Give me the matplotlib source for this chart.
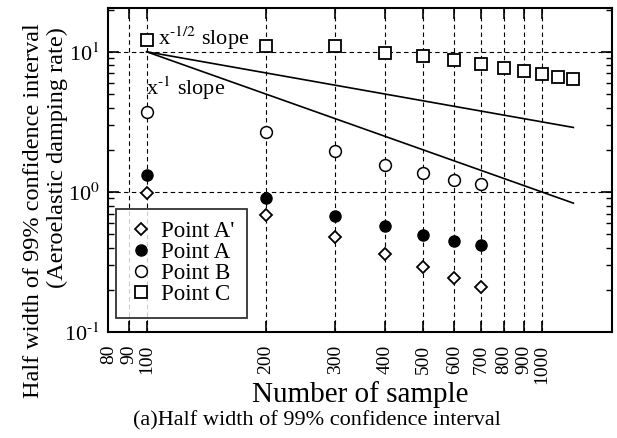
import numpy as np
import matplotlib
matplotlib.use('Agg')
import matplotlib.pyplot as plt
from matplotlib.ticker import FixedLocator, NullFormatter, LogLocator

plt.rcParams['font.family'] = ['Liberation Serif', 'DejaVu Serif']
plt.rcParams['mathtext.fontset'] = 'stix'

# sample counts and half widths for each point
n_short = [100, 200, 300, 400, 500, 600, 700]
n_long = [100, 200, 300, 400, 500, 600, 700, 800, 900, 1000, 1100, 1200]
point_a_dash = [0.98, 0.69, 0.48, 0.362, 0.29, 0.245, 0.211]
point_a = [1.33, 0.906, 0.68, 0.569, 0.491, 0.448, 0.42]
point_b = [3.75, 2.67, 1.95, 1.56, 1.37, 1.22, 1.14]
point_c = [12.1, 11.0, 11.0, 9.86, 9.33, 8.79, 8.19, 7.71, 7.30, 6.92, 6.65, 6.40]

# reference slopes starting from (100, 10)
slope_x = [100, 1200]
x_ticks = [80, 90, 100, 200, 300, 400, 500, 600, 700, 800, 900, 1000]

fig = plt.figure(figsize=(6.17, 4.38), dpi=100)
ax = fig.add_axes([0.1755, 0.2413, 0.8159, 0.7397])
ax.set_xscale('log')
ax.set_yscale('log')
ax.set_xlim(80, 1500)
ax.set_ylim(0.1, 20.4)

for xv in x_ticks[1:]:
    ax.axvline(xv, color='k', ls=(0, (4, 3)), lw=0.8, zorder=0)
for yv in [1, 10]:
    ax.axhline(yv, color='k', ls=(0, (4, 3)), lw=0.8, zorder=0)

sx = np.array(slope_x, dtype=float)
ax.plot(sx, 10 * (sx / 100) ** -0.5, color='k', lw=1.2)
ax.plot(sx, 10 * (sx / 100) ** -1.0, color='k', lw=1.2)

ax.plot(n_short, point_a_dash, 'D', ms=6.5, mfc='white', mec='k', mew=1.3, label="Point A'", ls='none')
ax.plot(n_short, point_a, 'o', ms=8, mfc='k', mec='k', label='Point A', ls='none')
ax.plot(n_short, point_b, 'o', ms=8.5, mfc='white', mec='k', mew=1.1, label='Point B', ls='none')
ax.plot(n_long, point_c, 's', ms=8.5, mfc='white', mec='k', mew=1.3, label='Point C', ls='none')

ax.text(107, 11.2, r'x$^{\text{-1/2}}$ slope', fontsize=16, va='baseline', ha='left')
ax.text(99.5, 4.93, r'x$^{\text{-1}}$ slope', fontsize=16, va='baseline', ha='left')

ax.xaxis.set_major_locator(FixedLocator(x_ticks))
ax.xaxis.set_minor_locator(FixedLocator([]))
ax.set_xticklabels([str(v) for v in x_ticks], rotation=90, fontsize=14)
ax.yaxis.set_major_locator(LogLocator(base=10, numticks=10))
ax.yaxis.set_minor_locator(LogLocator(base=10, subs=np.arange(2, 10), numticks=10))
ax.yaxis.set_minor_formatter(NullFormatter())
ax.set_yticks([0.1, 1, 10])
ax.set_yticklabels([r'10$^{\text{-1}}$', r'10$^{0}$', r'10$^{1}$'], fontsize=16)
ax.tick_params(which='major', direction='in', length=8, width=1.2, top=True, right=True, pad=6)
ax.tick_params(axis='x', pad=9)
ax.tick_params(which='minor', direction='in', length=4, width=1, top=True, right=True)
for sp in ax.spines.values():
    sp.set_linewidth(1.5)

leg = ax.legend(loc='lower left', bbox_to_anchor=(0.015, 0.044), borderaxespad=0,
                fontsize=16.5, frameon=True, fancybox=False, edgecolor='k',
                handletextpad=0.3, labelspacing=0.0, borderpad=0.55, handlelength=1.1)
leg.get_frame().set_linewidth(1.3)

fig.text(360 / 617, 1 - 395 / 438, 'Number of sample', fontsize=21, ha='center', va='center')
fig.text(34 / 617, 1 - 23 / 438, 'Half width of 99% confidence interval', rotation=90,
         fontsize=17.5, ha='center', va='top')
fig.text(57 / 617, 1 - 27 / 438, '(Aeroelastic damping rate)', rotation=90,
         fontsize=17.5, ha='center', va='top')
fig.text(317 / 617, 1 - 421 / 438, '(a)Half width of 99% confidence interval',
         fontsize=16, ha='center', va='center')

fig.savefig('out.png', dpi=100)
